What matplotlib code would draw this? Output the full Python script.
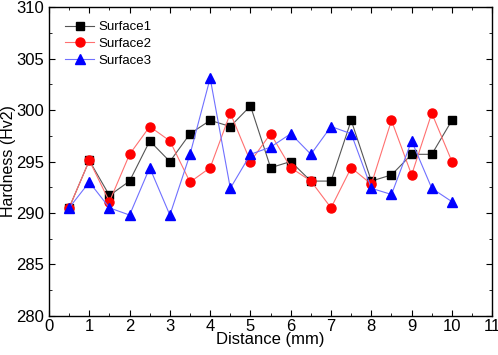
import matplotlib
matplotlib.use("Agg")
import matplotlib.pyplot as plt
from matplotlib.ticker import MultipleLocator

plt.rcParams['font.family'] = ['Liberation Sans', 'DejaVu Sans']

distance = [0.5, 1, 1.5, 2, 2.5, 3, 3.5, 4, 4.5, 5, 5.5, 6, 6.5, 7, 7.5, 8, 8.5, 9, 9.5, 10]
surface1 = [290.5, 295.1, 291.7, 293.1, 297.0, 295.0, 297.7, 299.0, 298.4, 300.4,
            294.4, 295.0, 293.1, 293.1, 299.0, 293.1, 293.7, 295.7, 295.7, 299.0]
surface2 = [290.5, 295.1, 291.1, 295.7, 298.4, 297.0, 293.0, 294.4, 299.7, 295.0,
            297.7, 294.4, 293.1, 290.5, 294.4, 292.8, 299.0, 293.7, 299.7, 295.0]
surface3 = [290.5, 293.0, 290.5, 289.8, 294.4, 289.8, 295.7, 303.1, 292.4, 295.7,
            296.4, 297.7, 295.7, 298.4, 297.7, 292.4, 291.8, 297.0, 292.4, 291.1]

fig = plt.figure(figsize=(4.98, 3.55), dpi=100)
ax = fig.add_axes([0.0984, 0.110, 0.890, 0.870])

ax.plot(distance, surface1, color='#555555', lw=0.8, marker='s', ms=5.5,
        mfc='black', mec='black', label='Surface1')
ax.plot(distance, surface2, color='#ff7070', lw=0.8, marker='o', ms=6.5,
        mfc='red', mec='red', label='Surface2')
ax.plot(distance, surface3, color='#7070ff', lw=0.8, marker='^', ms=6.5,
        mfc='blue', mec='blue', label='Surface3')

ax.set_xlim(0, 11)
ax.set_ylim(280, 310)
ax.xaxis.set_major_locator(MultipleLocator(1))
ax.xaxis.set_minor_locator(MultipleLocator(0.5))
ax.yaxis.set_major_locator(MultipleLocator(5))
ax.yaxis.set_minor_locator(MultipleLocator(2.5))
ax.tick_params(which='both', direction='in', top=True, right=True, labelsize=12)
ax.tick_params(which='major', length=4)
ax.tick_params(which='minor', length=2.5)
ax.tick_params(axis='x', pad=2)
for s in ax.spines.values():
    s.set_linewidth(1.0)

ax.set_xlabel('Distance (mm)', fontsize=12, labelpad=-1)
ax.set_ylabel('Hardness (Hv2)', fontsize=11.5, labelpad=0)

ax.legend(loc='upper left', frameon=False, fontsize=9.5, handlelength=2.2,
          handletextpad=0.3, labelspacing=0.35, borderaxespad=0.0,
          bbox_to_anchor=(0.025, 0.972))

fig.savefig('out.png', dpi=100)
